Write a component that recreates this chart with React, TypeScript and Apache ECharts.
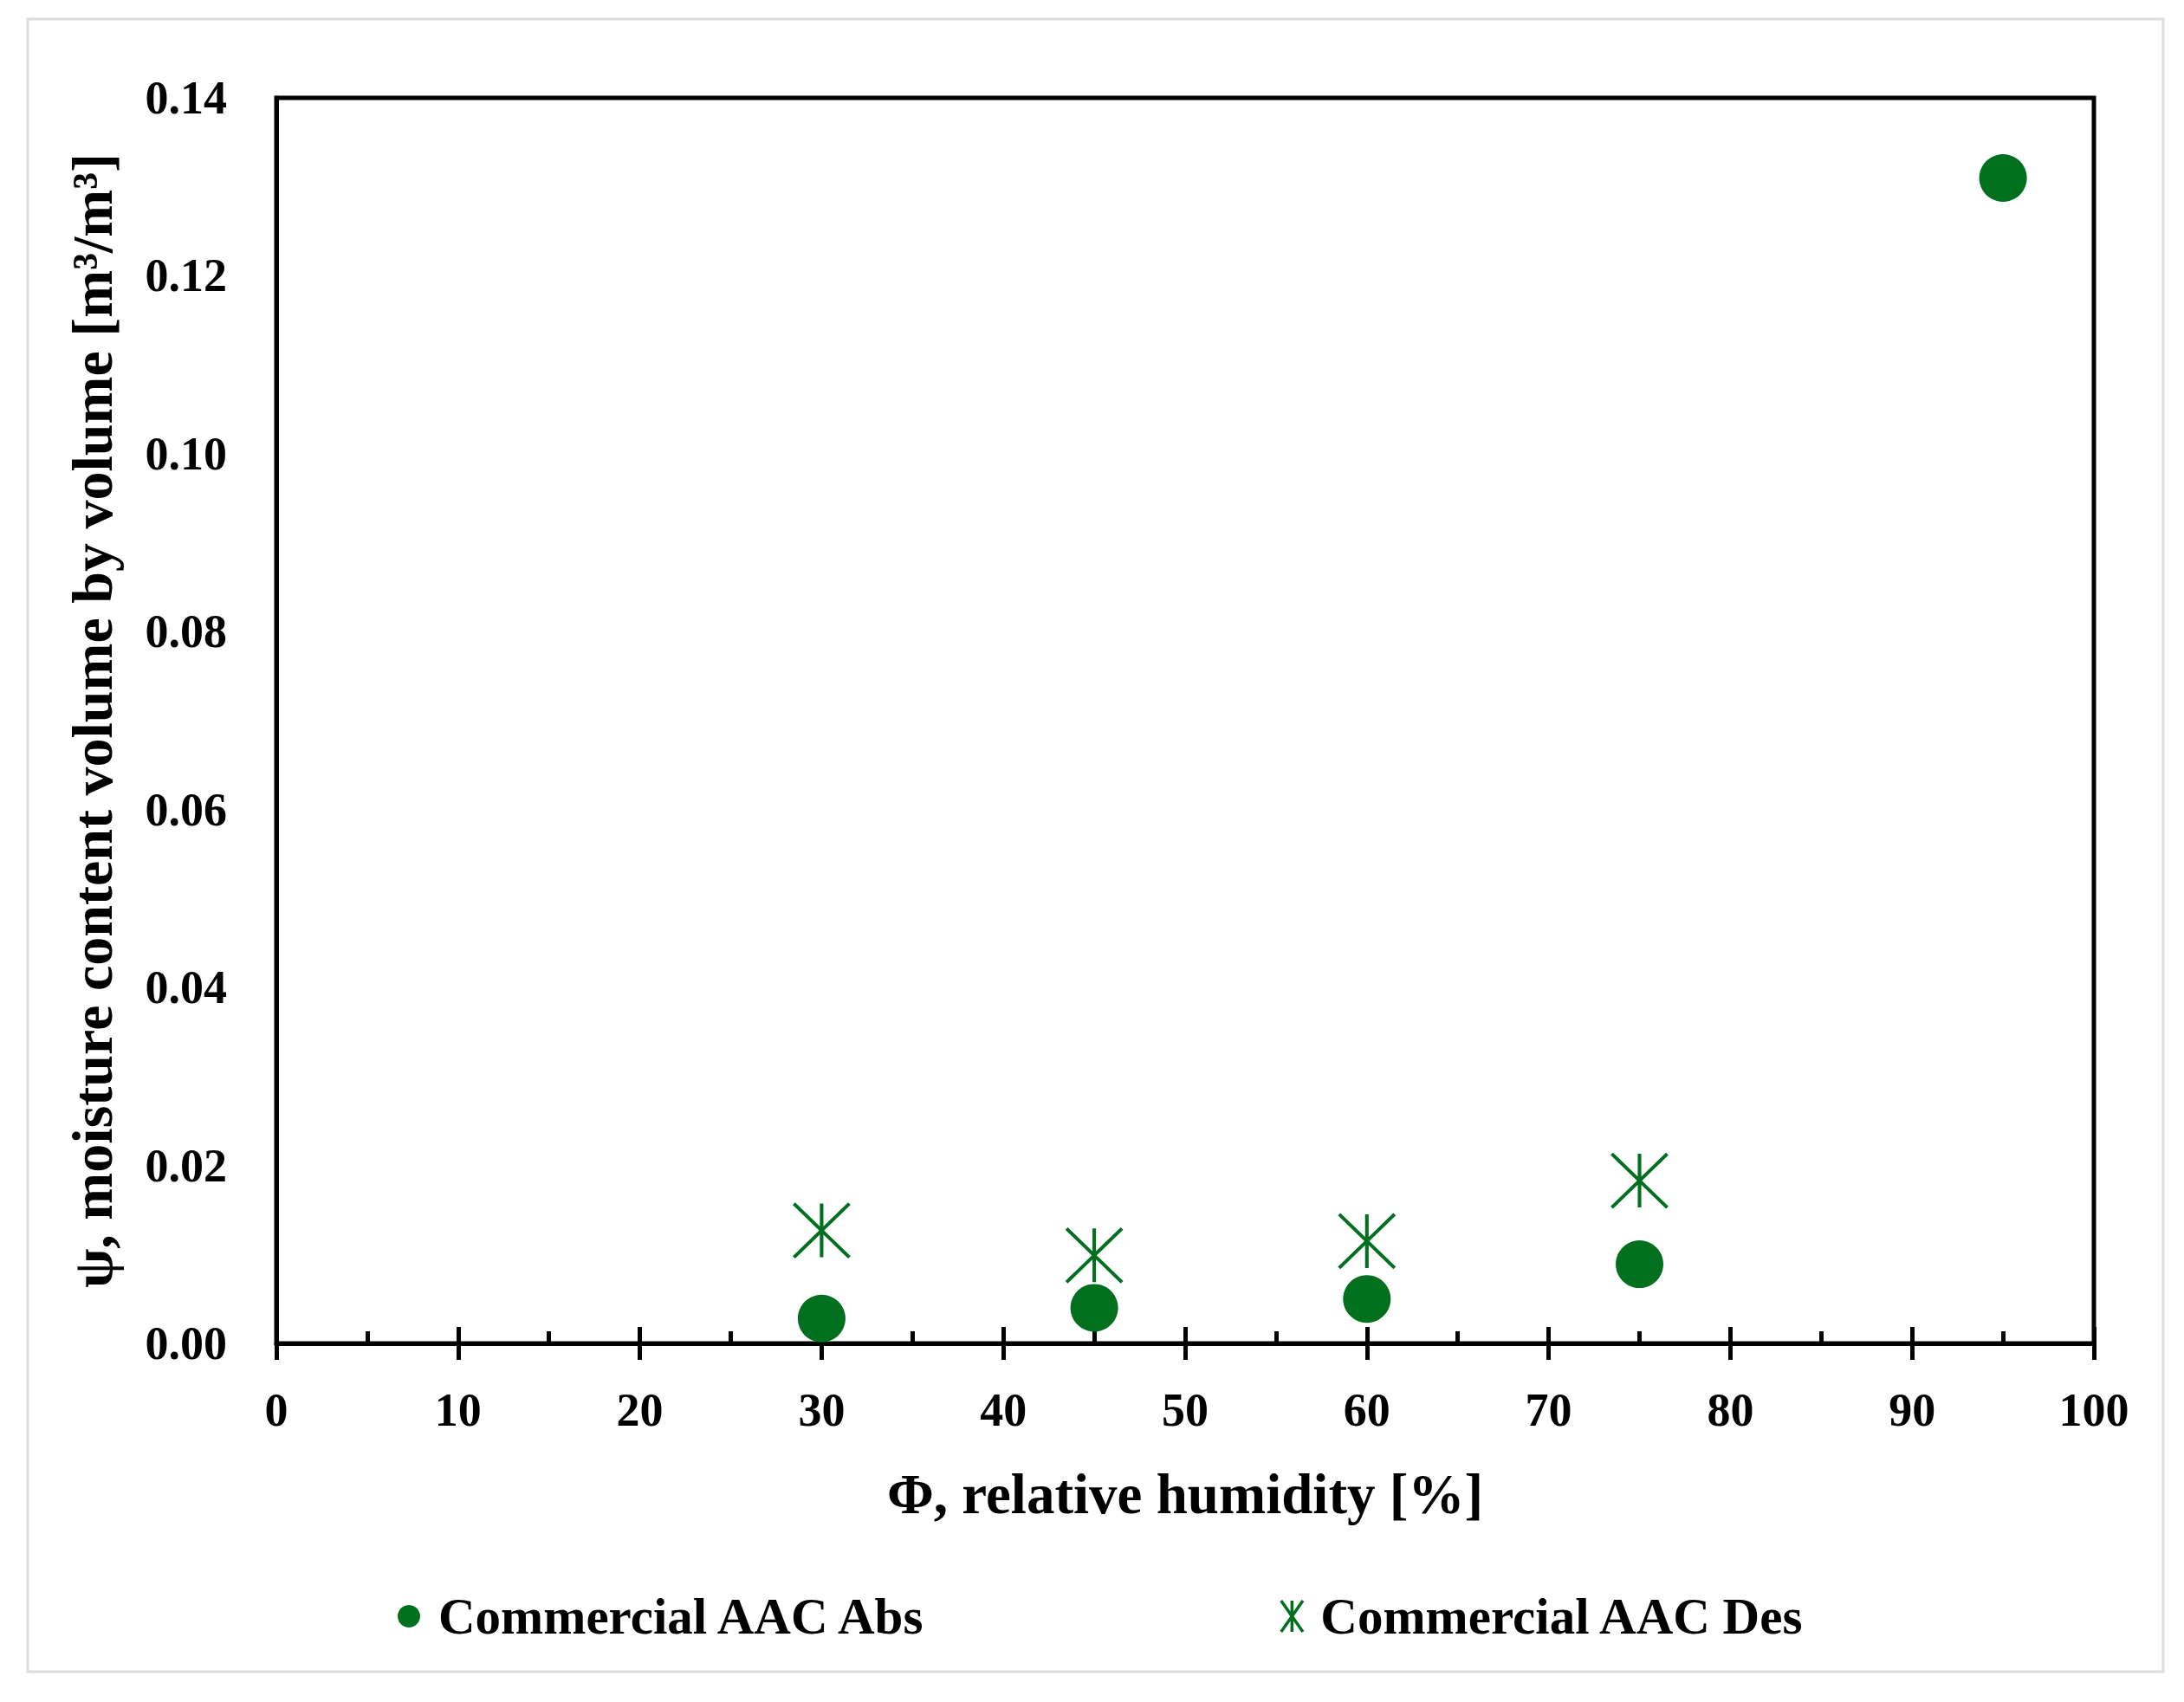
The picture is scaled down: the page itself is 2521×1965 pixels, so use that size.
import React, { useEffect, useRef } from "react";
import * as echarts from "echarts";

const absX = [30, 45, 60, 75, 95];
const absY = [0.0028, 0.004, 0.005, 0.0089, 0.131];
const desX = [30, 45, 60, 75];
const desY = [0.0127, 0.0099, 0.0115, 0.0183];

const absName = "Commercial AAC Abs";
const desName = "Commercial AAC Des";
const xName = "Φ, relative humidity [%]";
const yName = "ψ, moisture content volume by volume [m³/m³]";

const GREEN = "#006F1E";
const FONT = "'Liberation Serif', 'DejaVu Serif', serif";
const STAR = "path://M0,0L10,10M10,0L0,10M5,0L5,10";
const STAR_LEGEND = "path://M0,0L7,10M7,0L0,10M3.5,0L3.5,10";

export default function App() {
  const ref = useRef<HTMLDivElement>(null);
  useEffect(() => {
    if (!ref.current) return;
    const chart = echarts.init(ref.current, undefined, { renderer: "svg" });
    const axisText = { color: "#000", fontFamily: FONT, fontWeight: "bold" as const, fontSize: 54 };
    chart.setOption({
      animation: false,
      backgroundColor: "#fff",
      graphic: [
        {
          type: "rect",
          z: -10,
          shape: { x: 32, y: 22, width: 2465, height: 1908 },
          style: { fill: "none", stroke: "#dddddd", lineWidth: 3 },
        },
      ],
      grid: {
        left: 319,
        top: 113,
        right: 104,
        bottom: 414,
        show: true,
        borderColor: "#000",
        borderWidth: 5,
        backgroundColor: "transparent",
      },
      legend: [
        {
          data: [{ name: absName, icon: "circle" }],
          left: 459,
          top: 1836,
          padding: 0,
          itemWidth: 58,
          itemHeight: 26,
          textStyle: { ...axisText, fontSize: 59, lineHeight: 60 },
        },
        {
          data: [{ name: desName, icon: STAR_LEGEND, itemStyle: { borderWidth: 3.5 } }],
          left: 1477,
          top: 1836,
          padding: 0,
          itemWidth: 56,
          itemHeight: 36,
          textStyle: { ...axisText, fontSize: 59, lineHeight: 60 },
        },
      ],
      xAxis: [
        {
          type: "value",
          min: 0,
          max: 100,
          interval: 10,
          position: "bottom",
          name: xName,
          nameLocation: "middle",
          nameGap: 141,
          nameTextStyle: { ...axisText, fontSize: 65 },
          axisLine: { show: true, lineStyle: { color: "#000", width: 5 } },
          axisTick: { show: true, inside: false, length: 19, lineStyle: { color: "#000", width: 5 } },
          axisLabel: { ...axisText, margin: 50 },
          splitLine: { show: false },
        },
        {
          type: "value",
          min: 0,
          max: 100,
          interval: 10,
          position: "bottom",
          axisLine: { show: false },
          axisTick: { show: true, inside: true, length: 19, lineStyle: { color: "#000", width: 5 } },
          minorTick: { show: true, splitNumber: 2, length: 14, lineStyle: { color: "#000", width: 5 } },
          axisLabel: { show: false },
          splitLine: { show: false },
        },
      ],
      yAxis: {
        type: "value",
        min: 0,
        max: 0.14,
        interval: 0.02,
        name: yName,
        nameLocation: "middle",
        nameGap: 180,
        nameTextStyle: { ...axisText, fontSize: 66 },
        axisLine: { show: true, lineStyle: { color: "#000", width: 5 } },
        axisTick: { show: false },
        axisLabel: { ...axisText, margin: 57, formatter: (v: number) => v.toFixed(2) },
        splitLine: { show: false },
      },
      series: [
        {
          name: absName,
          type: "scatter",
          xAxisIndex: 0,
          symbol: "circle",
          symbolSize: 55,
          itemStyle: { color: GREEN, opacity: 1 },
          data: absX.map((x, i) => [x, absY[i]]),
        },
        {
          name: desName,
          type: "scatter",
          xAxisIndex: 0,
          symbol: STAR,
          symbolSize: [64, 62],
          itemStyle: { color: "rgba(0,0,0,0)", borderColor: GREEN, borderWidth: 4, opacity: 1 },
          data: desX.map((x, i) => [x, desY[i]]),
        },
      ],
    });
    return () => chart.dispose();
  }, []);
  return (
    <div
      ref={ref}
      style={{ position: "fixed", left: 0, top: 0, width: 2521, height: 1965, background: "#fff" }}
    />
  );
}
